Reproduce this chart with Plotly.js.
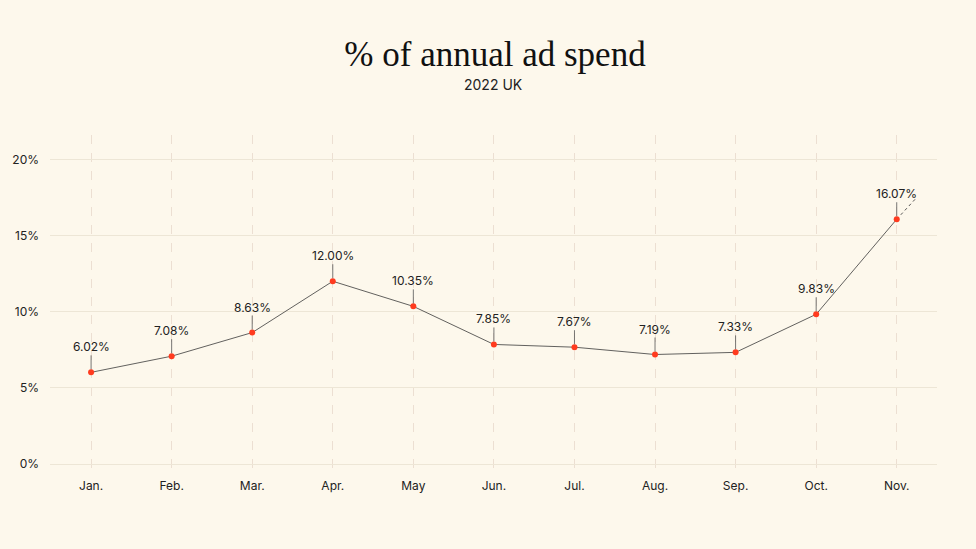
<!DOCTYPE html>
<html><head><meta charset="utf-8">
<script src="https://cdn.plot.ly/plotly-3.0.1.min.js"></script>
<style>html,body{margin:0;padding:0;background:#fdf8ec;}#chart{width:976px;height:549px;}</style>
</head><body><div id="chart"></div>
<script>
const months = ["Jan.","Feb.","Mar.","Apr.","May","Jun.","Jul.","Aug.","Sep.","Oct.","Nov."];
const shares = [6.02,7.08,8.63,12.00,10.35,7.85,7.67,7.19,7.33,9.83,16.07];
const trendX = [10, 10.24];
const trendY = [16.07, 17.45];
const yTicks = [0,5,10,15,20];
const yTickText = ["0%","5%","10%","15%","20%"];

const idx = months.map((m,i)=>i);
const font = "Inter, 'Open Sans', sans-serif";

const traces = [
  {x: trendX, y: trendY, mode:'lines', line:{color:'#444', width:0.9, dash:'3px,3px'}, hoverinfo:'skip'},
  {x: idx, y: shares, mode:'lines+markers', line:{color:'#3a3a3a', width:0.8},
   marker:{color:'#ff3b1f', size:6}}
];

const annotations = shares.map((v,i)=>({
  x:i, y:v, xref:'x', yref:'y', text: v.toFixed(2)+'%', showarrow:true,
  arrowhead:0, arrowwidth:0.8, arrowcolor:'#555', ax:0, ay:-17, standoff:3, borderpad:0,
  font:{family:font, size:12, color:'#222'}, yanchor:'bottom'
}));
annotations.push({text:'2022 UK', xref:'paper', yref:'paper', x:0.5, y:(475-84)/340,
  showarrow:false, font:{family:font, size:14, color:'#222'}, yanchor:'middle'});

const layout = {
  width:976, height:549,
  paper_bgcolor:'#fdf8ec', plot_bgcolor:'#fdf8ec',
  margin:{l:50, r:39, t:135, b:74},
  showlegend:false,
  title:{text:'% of annual ad spend', x:495/976, xanchor:'center', y:1-54/549, yanchor:'middle', yref:'container',
    font:{family:"'Liberation Serif', 'DejaVu Serif', serif", size:35, color:'#111'}},
  xaxis:{range:[-0.51,10.5], tickvals:idx, ticktext:months, showgrid:true, gridcolor:'#ecdfd2',
    griddash:'dash', gridwidth:1, zeroline:false, showline:false, ticks:'',
    tickfont:{family:font, size:12, color:'#222'}, ticklabelstandoff:2},
  yaxis:{range:[-0.72,21.6], tickvals:yTicks, ticktext:yTickText, showgrid:true, gridcolor:'#ede6d6',
    gridwidth:1, zeroline:false, showline:false, ticks:'',
    tickfont:{family:font, size:12, color:'#222'}, ticklabelstandoff:10},
  annotations: annotations
};
Plotly.newPlot('chart', traces, layout, {displayModeBar:false, staticPlot:true});
</script></body></html>
